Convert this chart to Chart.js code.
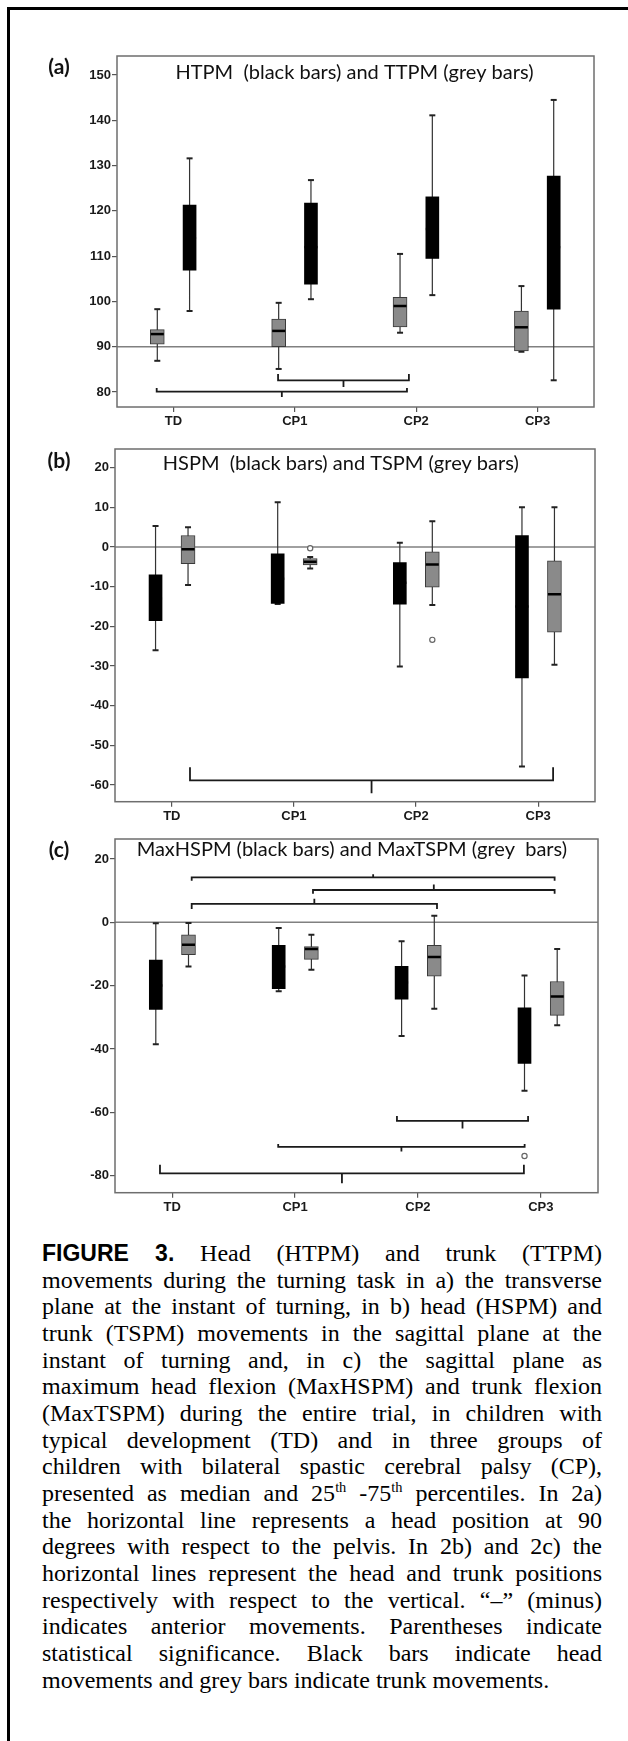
<!DOCTYPE html>
<html>
<head>
<meta charset="utf-8">
<title>Figure 3 - head and trunk movements</title>
<script src="https://cdn.jsdelivr.net/npm/chart.js@4.4.0/dist/chart.umd.min.js"></script>
<style>
  html, body { margin: 0; padding: 0; background: #fff; }
  #page { position: relative; width: 628px; height: 1741px; overflow: hidden; background: #fff; }
  .edge { position: absolute; background: #000; }
  canvas { position: absolute; left: 0; }
  #caption {
    position: absolute; left: 42px; top: 1240px; width: 560px;
    font-family: "Liberation Serif", "Times New Roman", serif; font-size: 24px; color: #000;
  }
  #caption .ln { height: 26.67px; line-height: 26.67px; text-align: justify; text-align-last: justify; }
  #caption .ln.last { text-align-last: left; }
  #caption .fig { font-family: "Liberation Sans", Arial, sans-serif; font-weight: bold; font-size: 23px; }
  #caption sup { font-size: 60%; line-height: 0; vertical-align: 9px; }
</style>
</head>
<body>
<div id="page">
  <div class="edge" style="left:7px;top:7px;width:621px;height:3px"></div>
  <div class="edge" style="left:7px;top:7px;width:3px;height:1734px"></div>

  <canvas id="panelA" width="628" height="400" style="top:40px"></canvas>
  <canvas id="panelB" width="628" height="390" style="top:440px"></canvas>
  <canvas id="panelC" width="628" height="400" style="top:830px"></canvas>

  <div id="caption">
    <div class="ln"><span class="fig">FIGURE 3.</span> Head (HTPM) and trunk (TTPM)</div>
    <div class="ln">movements during the turning task in a) the transverse</div>
    <div class="ln">plane at the instant of turning, in b) head (HSPM) and</div>
    <div class="ln">trunk (TSPM) movements in the sagittal plane at the</div>
    <div class="ln">instant of turning and, in c) the sagittal plane as</div>
    <div class="ln">maximum head flexion (MaxHSPM) and trunk flexion</div>
    <div class="ln">(MaxTSPM) during the entire trial, in children with</div>
    <div class="ln">typical development (TD) and in three groups of</div>
    <div class="ln">children with bilateral spastic cerebral palsy (CP),</div>
    <div class="ln">presented as median and 25<sup>th</sup> -75<sup>th</sup> percentiles. In 2a)</div>
    <div class="ln">the horizontal line represents a head position at 90</div>
    <div class="ln">degrees with respect to the pelvis. In 2b) and 2c) the</div>
    <div class="ln">horizontal lines represent the head and trunk positions</div>
    <div class="ln">respectively with respect to the vertical. “–” (minus)</div>
    <div class="ln">indicates anterior movements. Parentheses indicate</div>
    <div class="ln">statistical significance. Black bars indicate head</div>
    <div class="ln last">movements and grey bars indicate trunk movements.</div>
  </div>
</div>

<script>
// groups on the x axis
const groups = ['TD', 'CP1', 'CP2', 'CP3'];

// box plots: [min, q1, median, q3, max] per group
// (a) transverse plane
const ttpm = [[86.9, 90.6, 92.8, 93.8, 98.3], [85.1, 90.0, 93.5, 96.1, 99.7], [93.1, 94.4, 99.0, 100.9, 110.5], [88.9, 89.1, 94.3, 97.9, 103.4]];
const htpm = [[97.9, 106.9, 114, 121.3, 131.6], [100.5, 103.8, 112, 121.7, 126.8], [101.4, 109.5, 116, 123.1, 141.1], [82.6, 98.3, 112, 127.7, 144.5]];
// (b) sagittal plane at turning
const hspm = [[-26.0, -18.6, -13, -7.0, 5.3], [-14.4, -14.2, -8, -1.7, 11.3], [-30.1, -14.4, -9, -3.9, 1.1], [-55.3, -33.0, -15, 2.9, 10.0]];
const tspm = [[-9.6, -4.2, -0.6, 2.9, 5.0], [-5.4, -4.5, -3.7, -2.9, -2.5], [-14.6, -10.1, -4.4, -1.2, 6.5], [-29.7, -21.5, -11.9, -3.5, 10.0]];
// (c) maximum flexion during the trial
const maxHspm = [[-38.5, -27.5, -20, -11.9, -0.3], [-21.8, -21.0, -14, -7.3, -1.8], [-35.9, -24.3, -19, -13.9, -6.0], [-53.2, -44.6, -36, -27.0, -16.8]];
const maxTspm = [[-14.0, -10.2, -7.1, -4.0, -0.2], [-15.0, -11.7, -8.4, -7.7, -3.9], [-27.3, -17.0, -11.0, -7.3, 2.1], [-32.5, -29.4, -23.4, -18.7, -8.4]];

// outliers: [group index, value]
const tspmOutliers = [[1, -0.3], [2, -23.4]];
const maxHspmOutliers = [[3, -73.8]];

// y tick labels
const ticksA = [80, 90, 100, 110, 120, 130, 140, 150];
const ticksB = [-60, -50, -40, -30, -20, -10, 0, 10, 20];
const ticksC = [-80, -60, -40, -20, 0, 20];

// horizontal reference lines
const refA = 90;
const refB = 0;
const refC = 0;

// significance brackets: [from, to, level, arm, tip] in axis units
const bracketsA = [[0.862, 1.94, 82.6, 1.4, -1.5], [-0.138, 1.924, 80.1, 0.8, -1.2]];
const bracketsB = [[0.149, 3.122, -58.8, 3.3, -3.3]];
const bracketsC = [
  [0.159, 3.112, 14.2, -1.1, 1.0],
  [1.146, 3.112, 10.2, -1.2, 1.7],
  [0.159, 2.155, 5.8, -1.6, 1.6],
  [1.829, 2.896, -62.7, 1.5, -2.4],
  [0.863, 2.868, -70.9, 0.9, -1.5],
  [-0.099, 2.862, -79.3, 2.7, -3.1]
];

// ---- styling / layout ----
const X_MIN = -0.465, X_MAX = 3.465;
const SHIFT = 0.133;          // half gap between the two boxes of a group
const Y_AXIS_W = 40, X_AXIS_H = 30;
const GREY = '#8a8a8a';
const tickFont = { family: '"Liberation Sans", Arial, sans-serif', weight: 'bold', size: 13 };

function boxes(stats, shift, fill, edge, width) {
  return {
    type: 'bar',
    data: stats.map((s, i) => ({ x: i + shift, y: [s[1], s[3]] })),
    backgroundColor: fill,
    borderColor: edge || fill,
    borderWidth: edge ? 1 : 0,
    borderSkipped: false,
    barThickness: width,
    grouped: false
  };
}

function whiskers(stats, shift) {
  const pts = [];
  stats.forEach((s, i) => {
    pts.push({ x: i + shift, y: s[0] }, { x: i + shift, y: s[4] }, { x: i + shift, y: null });
  });
  return {
    type: 'line', data: pts, spanGaps: false,
    borderColor: '#333', borderWidth: 1.2,
    pointStyle: 'line', pointRadius: 3, pointBorderWidth: 2, pointBorderColor: '#222'
  };
}

function medians(stats, shift) {
  return {
    type: 'line', showLine: false,
    data: stats.map((s, i) => ({ x: i + shift, y: s[2] })),
    pointStyle: 'line', pointRadius: 6.5, pointBorderWidth: 2.5, pointBorderColor: '#000'
  };
}

function outliers(list, shift) {
  return {
    type: 'line', showLine: false,
    data: list.map(([g, v]) => ({ x: g + shift, y: v })),
    pointStyle: 'circle', pointRadius: 2.6, pointBorderWidth: 1.2,
    pointBorderColor: '#666', pointBackgroundColor: '#fff'
  };
}

function refLine(value) {
  return {
    type: 'line', data: [{ x: X_MIN, y: value }, { x: X_MAX, y: value }],
    borderColor: '#808080', borderWidth: 1.5, pointRadius: 0
  };
}

function brackets(list) {
  const pts = [];
  list.forEach(([from, to, level, arm, tip]) => {
    const mid = (from + to) / 2;
    pts.push(
      { x: from, y: level + arm }, { x: from, y: level },
      { x: mid, y: level }, { x: mid, y: level + tip }, { x: mid, y: level },
      { x: to, y: level }, { x: to, y: level + arm },
      { x: to, y: null }
    );
  });
  return {
    type: 'line', data: pts, spanGaps: false,
    borderColor: '#1a1a1a', borderWidth: 1.8, pointRadius: 0
  };
}

// panel letter, in-frame title and the frame round the plot area
const panelText = {
  id: 'panelText',
  afterDraw(chart, args, opts) {
    const { ctx, chartArea: a } = chart;
    ctx.save();
    ctx.strokeStyle = '#6e6e6e';
    ctx.lineWidth = 1.5;
    ctx.strokeRect(a.left, a.top, a.right - a.left, a.bottom - a.top);
    ctx.fillStyle = '#111';
    ctx.textAlign = 'center';
    ctx.textBaseline = 'middle';
    ctx.font = 'bold 21px Lato, sans-serif';
    ctx.fillText(opts.letter, opts.letterX, opts.letterY);
    ctx.font = '20px Lato, sans-serif';
    ctx.fillText(opts.title, opts.titleX, opts.titleY);
    ctx.restore();
  }
};

function makePanel(id, cfg) {
  const canvas = document.getElementById(id);
  const [left, top, right, bottom] = cfg.area;
  return new Chart(canvas, {
    type: 'bar',
    data: { datasets: cfg.datasets },
    options: {
      responsive: false,
      animation: false,
      events: [],
      layout: {
        padding: {
          left: left - Y_AXIS_W,
          top: top,
          right: canvas.width - right,
          bottom: canvas.height - bottom - X_AXIS_H
        }
      },
      plugins: {
        legend: { display: false },
        tooltip: { enabled: false },
        panelText: cfg.text
      },
      scales: {
        x: {
          type: 'linear', min: X_MIN, max: X_MAX, offset: false, bounds: 'data',
          afterBuildTicks: s => { s.ticks = groups.map((g, i) => ({ value: i })); },
          afterFit: s => { s.height = X_AXIS_H; },
          border: { display: false },
          grid: { drawOnChartArea: false, offset: false, tickLength: 5, color: '#555', lineWidth: 1.2 },
          ticks: { callback: v => groups[v], padding: 2, maxRotation: 0, autoSkip: false, color: '#1a1a1a', font: tickFont }
        },
        y: {
          min: cfg.yMin, max: cfg.yMax, bounds: 'data', beginAtZero: false,
          afterBuildTicks: s => { s.ticks = cfg.ticks.map(v => ({ value: v })); },
          afterFit: s => { s.width = Y_AXIS_W; },
          border: { display: false },
          grid: { drawOnChartArea: false, tickLength: 5, color: '#555', lineWidth: 1.2 },
          ticks: { padding: 1, color: '#1a1a1a', font: tickFont }
        }
      }
    },
    plugins: [panelText]
  });
}

// (a) grey (trunk) boxes on the left, black (head) on the right
makePanel('panelA', {
  area: [117, 16, 594, 367],
  yMin: 76.7, yMax: 154.2, ticks: ticksA,
  text: { letter: '(a)', letterX: 59, letterY: 27.5, title: 'HTPM  (black bars) and TTPM (grey bars)', titleX: 354.5, titleY: 33 },
  datasets: [
    brackets(bracketsA),
    medians(ttpm, -SHIFT),
    medians(htpm, SHIFT),
    boxes(ttpm, -SHIFT, GREY, '#3a3a3a', 14),
    boxes(htpm, SHIFT, '#000', null, 13),
    whiskers(ttpm, -SHIFT),
    whiskers(htpm, SHIFT),
    refLine(refA)
  ]
});

// (b) black (head) boxes on the left, grey (trunk) on the right
makePanel('panelB', {
  area: [115, 7.7, 595, 361.7],
  yMin: -64.2, yMax: 24.7, ticks: ticksB,
  text: { letter: '(b)', letterX: 59, letterY: 21, title: 'HSPM  (black bars) and TSPM (grey bars)', titleX: 340.8, titleY: 24 },
  datasets: [
    brackets(bracketsB),
    outliers(tspmOutliers, SHIFT),
    medians(hspm, -SHIFT),
    medians(tspm, SHIFT),
    boxes(hspm, -SHIFT, '#000', null, 13),
    boxes(tspm, SHIFT, GREY, '#3a3a3a', 14),
    whiskers(hspm, -SHIFT),
    whiskers(tspm, SHIFT),
    refLine(refB)
  ]
});

// (c) maximum flexion
makePanel('panelC', {
  area: [115, 8.3, 598, 362.7],
  yMin: -85.4, yMax: 26.3, ticks: ticksC,
  text: { letter: '(c)', letterX: 59, letterY: 20, title: 'MaxHSPM (black bars) and MaxTSPM (grey  bars)', titleX: 351.9, titleY: 19.3 },
  datasets: [
    brackets(bracketsC),
    outliers(maxHspmOutliers, -SHIFT),
    medians(maxHspm, -SHIFT),
    medians(maxTspm, SHIFT),
    boxes(maxHspm, -SHIFT, '#000', null, 13),
    boxes(maxTspm, SHIFT, GREY, '#3a3a3a', 14),
    whiskers(maxHspm, -SHIFT),
    whiskers(maxTspm, SHIFT),
    refLine(refC)
  ]
});
</script>
</body>
</html>
